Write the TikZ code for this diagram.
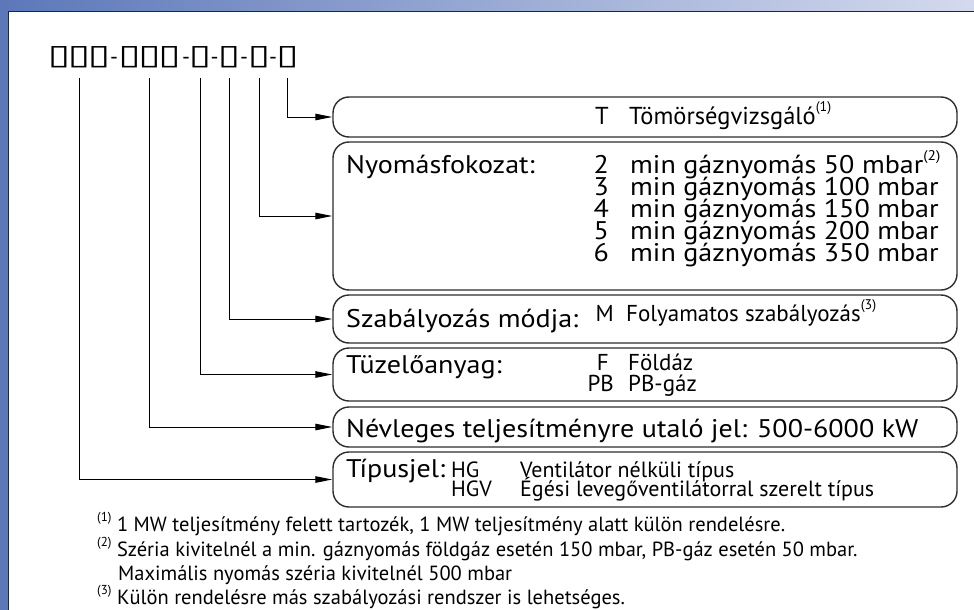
\documentclass[tikz,border=0pt]{standalone}
\usepackage{graphicx}
\usepackage{fontspec}
\setmainfont{PT Sans}
\newfontfamily\bigfont[FakeStretch=1.1]{PT Sans}
\newfontfamily\codefont{DejaVu Sans}
\usetikzlibrary{arrows.meta}
\definecolor{barL}{RGB}{92,120,185}
\definecolor{barR}{RGB}{212,218,238}
\definecolor{edge}{RGB}{45,45,45}
\newcommand\refmark[1]{\raisebox{0.5em}{\fontsize{14}{14}\selectfont(#1)}}
\newcommand\fnmark[1]{\raisebox{0.45em}{\fontsize{13}{13}\selectfont(#1)}}
\newcommand\sqg{\makebox[20pt]{\scalebox{1.45}[1]{▯}}}
\newcommand\sqone{\makebox[16pt]{\scalebox{1.45}[1]{▯}}}
\newcommand\linestack[2]{\vtop{\baselineskip=#1\lineskiplimit=-60pt\lineskip=0pt #2}}
\tikzset{
  box/.style={draw=edge, line width=1.4pt, rounded corners=16pt, minimum width=624pt, inner sep=0pt},
  big/.style={font=\bigfont\fontsize{25.5}{27}\selectfont, inner sep=0pt},
  mid/.style={font=\fontsize{23}{25}\selectfont, inner sep=0pt},
  foot/.style={font=\fontsize{20.5}{22}\selectfont, inner sep=0pt, anchor=base west},
  codeglyph/.style={font=\codefont\bfseries\fontsize{28}{28}\selectfont, inner sep=0pt, anchor=base},
  hy/.style={font=\fontsize{22}{22}\selectfont, inner sep=0pt, anchor=base},
  conn/.style={line width=1pt, -{Triangle[length=17pt,width=6.5pt]}}
}
\begin{document}
\begin{tikzpicture}[x=1pt,y=-1pt]
\useasboundingbox (0,0) rectangle (974,610);
% background frame
\shade[left color=barL, right color=barR] (0,0) rectangle (974,11);
\fill[barL] (0,0) rectangle (8,610);
\fill[white] (8,11) rectangle (974,610);
\draw[line width=1.2pt, black!85] (8.6,610) -- (8.6,11.6) -- (974,11.6);

% code string
\node[codeglyph] (c1) at (79,65) {\sqg\sqg\sqg};
\node[hy] (h1) at (114,65) {-};
\node[codeglyph] (c2) at (149.5,65) {\sqg\sqg\sqg};
\node[hy] (h2) at (186,65) {-};
\node[codeglyph] (c3) at (200,65) {\sqone};
\node[hy] (h3) at (214.5,65) {-};
\node[codeglyph] (c4) at (229,65) {\sqone};
\node[hy] (h4) at (244,65) {-};
\node[codeglyph] (c5) at (259,65) {\sqone};
\node[hy] (h5) at (273,65) {-};
\node[codeglyph] (c6) at (287.5,65) {\sqone};
\coordinate (top) at (0,78);

% boxes
\node[box, minimum height=40pt] (b1) at (645,117) {};
\node[box, minimum height=148pt] (b2) at (645,216) {};
\node[box, minimum height=48pt] (b3) at (645,319) {};
\node[box, minimum height=53pt] (b4) at (645,374.5) {};
\node[box, minimum height=40pt] (b5) at (645,427) {};
\node[box, minimum height=55pt] (b6) at (645,479.5) {};

% connectors
\draw[conn] (c6 |- top) |- (b1.west);
\draw[conn] (c5 |- top) |- (b2.west);
\draw[conn] (c4 |- top) |- (b3.west);
\draw[conn] (c3 |- top) |- (b4.west);
\draw[conn] (c2 |- top) |- (b5.west);
\draw[conn] (c1 |- top) |- (b6.west);

% box 1
\node[mid, font=\fontsize{24.5}{26}\selectfont, anchor=base east] (t1k) at (609,124) {T};
\node[mid, font=\fontsize{24.5}{26}\selectfont, anchor=base west] (t1v) at (629,124) {Tömörségvizsgáló\refmark{1}};

% box 2
\node[big, anchor=base west] (t2l) at (346,173) {Nyomásfokozat:};
\node[big, anchor=base east] (t2k) at (609,173) {\linestack{22pt}{\hbox{2}\hbox{3}\hbox{4}\hbox{5}\hbox{6}}};
\node[big, anchor=base west] (t2v) at (630,173) {\linestack{22pt}{%
  \hbox{min gáznyomás 50 mbar\refmark{2}}%
  \hbox{min gáznyomás 100 mbar}%
  \hbox{min gáznyomás 150 mbar}%
  \hbox{min gáznyomás 200 mbar}%
  \hbox{min gáznyomás 350 mbar}}};

% box 3
\node[big, anchor=base west] (t3l) at (346,327) {Szabályozás módja:};
\node[mid, anchor=base east] (t3k) at (614,321) {M};
\node[mid, anchor=base west] (t3v) at (626,321) {Folyamatos szabályozás\refmark{3}};

% box 4
\node[big, anchor=base west] (t4l) at (346,373) {Tüzelőanyag:};
\node[mid, anchor=base east] (t4k) at (614,370) {\linestack{21pt}{\hbox to 30pt{\hss F\kern5pt}\hbox to 30pt{\hss PB}}};
\node[mid, anchor=base west] (t4v) at (628,370) {\linestack{21pt}{\hbox{Földáz}\hbox{PB-gáz}}};

% box 5
\node[big, anchor=base west] (t5l) at (346,437) {Névleges teljesítményre utaló jel: 500-6000 kW};

% box 6
\node[big, anchor=base west] (t6l) at (346,477) {Típusjel:};
\node[mid, font=\fontsize{22}{24}\selectfont, anchor=base west] (t6k) at (451,477) {\linestack{19pt}{\hbox{HG}\hbox{HGV}}};
\node[mid, font=\fontsize{22}{24}\selectfont, anchor=base west] (t6v) at (520,477) {\linestack{19pt}{\hbox{Ventilátor nélküli típus}\hbox{Égési levegőventilátorral szerelt típus}}};

% footnotes
\node[foot] (f1) at (97,531) {\fnmark{1}\ 1 MW teljesítmény felett tartozék, 1 MW teljesítmény alatt külön rendelésre.};
\node[foot] (f2) at (97,556) {\fnmark{2}\ Széria kivitelnél a min. gáznyomás földgáz esetén 150 mbar, PB-gáz esetén 50 mbar.};
\node[foot] (f2b) at (118,580) {Maximális nyomás széria kivitelnél 500 mbar};
\node[foot] (f3) at (97,604) {\fnmark{3}\ Külön rendelésre más szabályozási rendszer is lehetséges.};
\end{tikzpicture}
\end{document}
